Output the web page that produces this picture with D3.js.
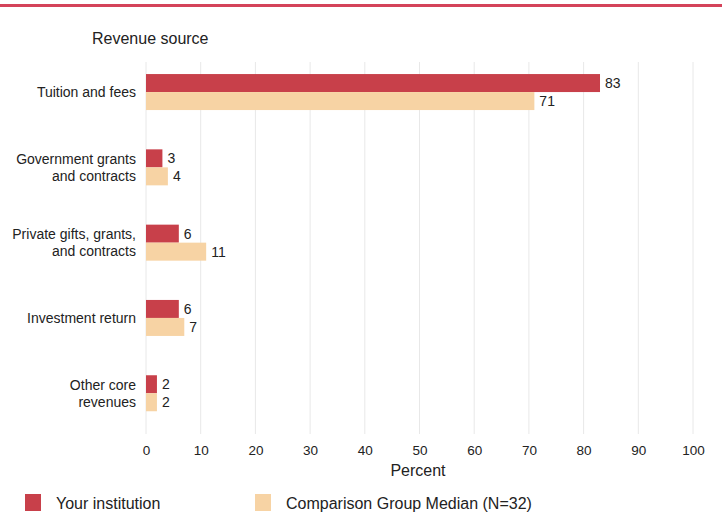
<!DOCTYPE html>
<html><head><meta charset="utf-8">
<script src="https://cdn.jsdelivr.net/npm/d3@7/dist/d3.min.js"></script>
<style>body{margin:0;background:#fff;}svg{display:block;font-family:"Liberation Sans",Arial,sans-serif;}</style>
</head><body>
<svg id="c" width="722" height="515"></svg>
<script>
const categories = [["Tuition and fees"],["Government grants","and contracts"],["Private gifts, grants,","and contracts"],["Investment return"],["Other core","revenues"]];
const yourInstitution = [83, 3, 6, 6, 2];
const comparisonMedian = [71, 4, 11, 7, 2];
const xTicks = [0,10,20,30,40,50,60,70,80,90,100];
const seriesNames = ["Your institution","Comparison Group Median (N=32)"];
const colors = ["#c8404a","#f7d3a4"];

const svg = d3.select("#c");
svg.append("rect").attr("x",0).attr("y",4).attr("width",722).attr("height",3).attr("fill","#d4435a");

const x = d3.scaleLinear().domain([0,100]).range([146,693]);
const y = d3.scaleBand().domain(d3.range(categories.length)).range([54.4,430.9]).paddingInner(0).paddingOuter(0);
const barH = 18;

// gridlines
svg.append("g").selectAll("line").data(xTicks).join("line")
  .attr("x1",d=>x(d)).attr("x2",d=>x(d)).attr("y1",62).attr("y2",434)
  .attr("stroke","#e8e8e8").attr("stroke-width",1);

svg.append("text").attr("x",92).attr("y",44).attr("font-size",16).attr("fill","#222").text("Revenue source");

const g = svg.append("g");
categories.forEach((cat,i)=>{
  const cy = y(i)+y.bandwidth()/2;
  const vals = [yourInstitution[i], comparisonMedian[i]];
  vals.forEach((v,j)=>{
    const top = cy - barH + j*barH;
    g.append("rect").attr("x",x(0)).attr("y",top).attr("width",x(v)-x(0)).attr("height",barH).attr("fill",colors[j]);
    g.append("text").attr("x",x(v)+5).attr("y",top+barH/2+5).attr("font-size",14).attr("fill","#222").text(v);
  });
  const n = cat.length;
  cat.forEach((line,k)=>{
    g.append("text").attr("x",136).attr("y",cy+5+(k-(n-1)/2)*17).attr("text-anchor","end")
      .attr("font-size",14).attr("fill","#222").text(line);
  });
});

const ax = svg.append("g").attr("transform","translate(0,434)")
  .call(d3.axisBottom(x).tickValues(xTicks).tickSize(0).tickPadding(11));
ax.select(".domain").remove();
ax.selectAll("text").attr("font-size",13.5).attr("fill","#222").attr("font-family","Liberation Sans, Arial, sans-serif");

svg.append("text").attr("x",418).attr("y",476).attr("text-anchor","middle").attr("font-size",16).attr("fill","#222").text("Percent");

const legX = [25,255];
seriesNames.forEach((s,i)=>{
  svg.append("rect").attr("x",legX[i]).attr("y",494).attr("width",16).attr("height",17).attr("fill",colors[i]);
  svg.append("text").attr("x",legX[i]+31).attr("y",509).attr("font-size",16).attr("fill","#222").text(s);
});
</script>
</body></html>
